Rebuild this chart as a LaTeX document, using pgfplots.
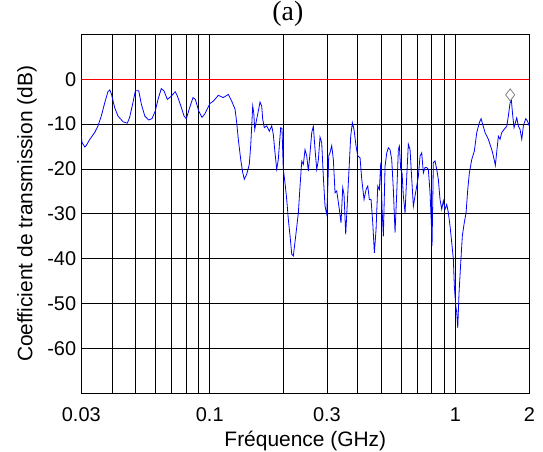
\documentclass[border=0pt]{standalone}
\usepackage{pgfplots}
\pgfplotsset{compat=1.18}
\usepackage{fontspec}
\setmainfont{Liberation Sans}
\newfontfamily\timesfont{Liberation Serif}
\begin{document}
\begin{tikzpicture}
\begin{axis}[
  scale only axis, width=448bp, height=359bp,
  xmode=log, xmin=0.03, xmax=2, ymin=-70, ymax=10,
  xtick={0.03,0.1,0.3,1,2}, xticklabels={0.03,0.1,0.3,1,2},
  minor xtick={0.04,0.05,0.06,0.07,0.08,0.09,0.2,0.4,0.5,0.6,0.7,0.8,0.9},
  ytick={-60,-50,-40,-30,-20,-10,0}, yticklabels={-60,-50,-40,-30,-20,-10,0},
  xmajorgrids, xminorgrids, ymajorgrids,
  grid style={black, line width=0.7bp},
  major grid style={black, line width=0.7bp},
  minor grid style={black, line width=0.7bp},
  major tick length=0pt, minor tick length=0pt,
  axis line style={black, line width=0.8bp},
  tick label style={font=\fontsize{20}{24}\selectfont},
  xticklabel style={anchor=base, yshift=-27.7bp},
  yticklabel style={anchor=east, inner sep=0pt, xshift=-5bp},
  xlabel={\fontsize{21}{25}\selectfont Fréquence (GHz)},
  xlabel style={at={(axis description cs:0.5,-0.1468)}, anchor=base},
  ylabel={\fontsize{21}{25}\selectfont Coefficient de transmission (dB)},
  ylabel style={at={(axis description cs:-0.109,0.5)}, anchor=base},
  title={\timesfont\fontsize{28}{32}\selectfont (a)},
  title style={at={(axis description cs:0.461,1.021)}, anchor=base},
]
\addplot[red, line width=0.8bp, forget plot] coordinates {(0.03,0) (2,0)};
\addplot[blue, line width=0.8bp] coordinates {
(0.0300,-12.6)(0.0302,-14.1)(0.0310,-15.1)(0.0314,-14.8)(0.0325,-13.4)(0.0340,-11.9)(0.0351,-10.4)(0.0362,-8.2)(0.0374,-5.2)(0.0385,-2.8)(0.0392,-2.4)(0.0398,-3.3)(0.0410,-6.3)(0.0423,-8.2)(0.0444,-9.5)(0.0462,-9.8)(0.0472,-8.5)(0.0487,-5.2)(0.0498,-2.6)(0.0514,-2.6)(0.0527,-5.6)(0.0544,-8.2)(0.0564,-9.1)(0.0582,-8.8)(0.0600,-7.1)(0.0616,-4.5)(0.0635,-2.1)(0.0651,-2.6)(0.0672,-4.5)(0.0694,-3.9)(0.0724,-2.8)(0.0738,-3.7)(0.0762,-5.9)(0.0786,-8.2)(0.0803,-8.8)(0.0829,-6.3)(0.0855,-4.1)(0.0874,-4.5)(0.0902,-7.1)(0.0930,-8.5)(0.0954,-7.8)(0.0984,-6.3)
(0.1003,-5.4)(0.1034,-4.9)(0.1084,-3.6)(0.1136,-4.1)(0.1190,-3.4)(0.1229,-4.9)(0.1268,-6.7)(0.1288,-9.7)(0.1307,-13.4)(0.1337,-17.9)(0.1362,-20.8)(0.1383,-22.3)(0.1414,-21.2)(0.1449,-19.0)(0.1468,-14.9)(0.1482,-10.5)(0.1496,-6.0)(0.1511,-7.5)(0.1525,-11.2)(0.1553,-8.9)(0.1577,-7.1)(0.1602,-5.1)(0.1628,-6.0)(0.1643,-8.9)(0.1668,-10.8)(0.1706,-10.4)(0.1748,-11.6)(0.1788,-10.4)(0.1815,-12.3)(0.1844,-16.4)(0.1874,-20.1)(0.1902,-17.9)(0.1920,-14.9)(0.1945,-10.8)(0.1969,-11.0)(0.1993,-20.1)(0.2025,-23.1)(0.2058,-26.8)(0.2089,-31.2)(0.2123,-34.9)(0.2157,-39.0)(0.2189,-39.4)
(0.2224,-36.3)(0.2260,-33.0)(0.2295,-29.8)(0.2332,-23.8)(0.2369,-18.3)(0.2405,-19.0)(0.2443,-15.7)(0.2483,-17.1)(0.2520,-20.5)(0.2561,-16.4)(0.2602,-11.9)(0.2641,-10.5)(0.2684,-15.7)(0.2727,-20.1)(0.2768,-18.0)(0.2812,-12.9)(0.2857,-14.2)(0.2900,-21.6)(0.2947,-28.3)(0.2995,-30.1)(0.3023,-24.6)(0.3051,-17.1)(0.3088,-16.4)(0.3138,-14.8)(0.3186,-17.9)(0.3237,-25.3)(0.3289,-24.9)(0.3370,-29.0)(0.3424,-32.0)(0.3479,-24.2)(0.3522,-25.7)(0.3578,-34.6)(0.3633,-27.5)(0.3691,-20.1)(0.3750,-12.7)(0.3807,-9.7)(0.3868,-11.2)(0.3942,-14.9)(0.4005,-17.1)
(0.4092,-17.5)(0.4158,-22.3)(0.4249,-26.8)(0.4329,-24.6)(0.4399,-23.8)(0.4465,-26.8)(0.4537,-26.8)(0.4610,-32.0)(0.4680,-38.7)(0.4755,-33.5)(0.4831,-23.8)(0.4905,-24.6)(0.4970,-18.6)(0.5031,-29.0)(0.5092,-35.0)(0.5174,-19.4)(0.5258,-16.4)(0.5335,-15.3)(0.5420,-15.7)(0.5507,-17.9)(0.5592,-24.6)(0.5681,-34.2)(0.5773,-25.3)(0.5860,-15.7)(0.5915,-14.9)(0.5993,-20.1)(0.6067,-20.9)(0.6141,-26.0)(0.6240,-29.8)(0.6340,-21.6)(0.6435,-14.5)(0.6540,-15.7)(0.6645,-22.3)(0.6746,-28.3)(0.6854,-26.0)(0.6965,-23.8)(0.7070,-21.6)(0.7184,-17.1)(0.7297,-16.4)(0.7407,-20.9)(0.7525,-19.7)(0.7648,-19.7)(0.7763,-20.1)(0.7888,-25.3)(0.7984,-32.0)(0.8036,-37.2)
(0.8135,-18.6)(0.8263,-18.2)(0.8397,-20.1)(0.8524,-22.3)(0.8661,-26.8)(0.8800,-29.0)(0.8933,-27.1)(0.9078,-29.0)(0.9223,-27.9)(0.9362,-29.7)(0.9512,-32.7)(0.9665,-36.4)(0.9813,-40.1)(0.9904,-46.1)(1.0035,-50.5)(1.0130,-52.0)(1.0226,-55.4)(1.0351,-47.6)(1.0517,-40.9)(1.0676,-34.9)(1.0877,-31.9)(1.1054,-29.8)(1.1231,-24.6)(1.1401,-20.9)(1.1661,-17.9)(1.1949,-16.0)(1.2219,-11.9)(1.2521,-9.7)(1.2724,-8.8)(1.2928,-10.1)(1.3208,-11.9)(1.3625,-13.4)(1.4064,-15.7)(1.4277,-17.1)(1.4549,-19.2)(1.4823,-14.9)(1.4964,-12.7)(1.5204,-13.4)(1.5448,-11.9)(1.5786,-11.2)(1.6191,-10.5)(1.6435,-8.2)(1.6699,-5.3)(1.6904,-4.7)(1.7127,-8.2)(1.7337,-10.8)(1.7550,-9.7)(1.7782,-8.6)(1.8050,-10.4)(1.8340,-11.2)(1.8638,-13.4)(1.8920,-10.4)(1.9347,-8.8)(1.9639,-9.3)(2.0000,-10.4)
};
\addplot[only marks, mark=diamond, mark size=6bp, gray, mark options={line width=0.8bp, fill=none}] coordinates {(1.672,-3.5)};
\end{axis}
\pgfresetboundingbox
\path[use as bounding box] ([shift={(-81.3bp,-58.7bp)}]current axis.south west) rectangle ++(543bp,452bp);
\end{tikzpicture}
\end{document}
